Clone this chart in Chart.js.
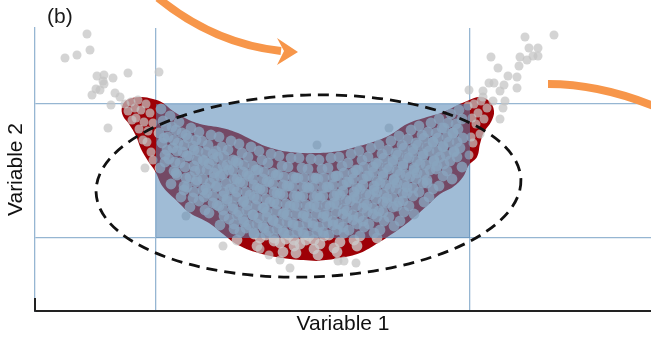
<!DOCTYPE html>
<html>
<head>
<meta charset="utf-8">
<script src="https://cdn.jsdelivr.net/npm/chart.js@4.4.1/dist/chart.umd.min.js"></script>
<style>
  body { margin: 0; background: #fff; }
  #wrap { width: 651px; height: 339px; }
</style>
</head>
<body>
<div id="wrap"><canvas id="canvas"></canvas></div>
<script>
// the figure has no tick labels, so the units are arbitrary (y runs top-down)
const xRange = [35, 651]
const yRange = [28, 311]

// the two reference lines on each axis; they also bound the blue box
const xGrid = [156, 470]
const yGrid = [104, 238]

// outline of the dark red density region (banana shape)
const blobOutline = [
  [317,261],[290,259],[262,254],[238,245],[223,234],[209,223],[190,213],[176,200],[163,187],
  [155,171],[148,161],[141,149],[136,136],[129,124],[123,116],[122,107],[127,100],[140,97],
  [153,99],[163,103],[173,111],[185,118],[200,124],[222,128],[238,133],[252,140],[268,147],
  [290,152],[317,153],[340,151],[352,148],[373,142],[390,135],[407,124],[427,117],[441,113],
  [454,107],[467,101],[480,97],[489,101],[494,111],[491,122],[484,132],[480,144],[477,157],
  [469,165],[463,177],[453,187],[440,194],[430,203],[418,214],[406,224],[392,234],[378,243],
  [360,253],[340,258],[317,261]
]

// samples in the left tail of the banana
const leftTip = [
  [125,104],[131,102],[128,111],[135,108],[138,100],[141,110],[136,118],[146,104],[150,113],
  [144,122],[132,120],[139,129],[148,131],[153,123],[147,142],[151,152],[143,140],[153,160]
]

// samples in the body of the banana
const bandPoints = [
  [161,109],[163,121],[159,133],[162,143],[165,155],[160,168],
  [170,116],[172,127],[168,137],[173,148],[169,159],[174,171],[171,184],
  [179,122],[182,133],[178,143],[183,152],[180,163],[177,175],[184,186],[181,197],
  [191,128],[188,138],[193,146],[189,156],[194,166],[190,177],[187,187],[193,198],[190,207],
  [199,132],[202,141],[198,151],[203,160],[200,170],[197,180],[203,190],[199,201],[205,210],
  [211,135],[208,145],[213,154],[209,164],[214,173],[210,183],[207,193],[213,203],[209,213],
  [219,137],[222,147],[218,157],[223,166],[220,176],[217,186],[223,196],[219,206],[224,216],[220,225],
  [231,141],[228,150],[233,160],[229,170],[234,179],[230,189],[227,199],[233,209],[229,219],[234,229],
  [239,144],[242,153],[238,163],[243,172],[240,182],[237,192],[243,202],[239,212],[244,222],[240,232],[237,240],
  [251,147],[248,157],[253,166],[249,176],[254,185],[250,195],[247,205],[253,215],[249,225],[254,234],
  [259,151],[262,160],[258,170],[263,179],[260,189],[257,199],[263,208],[259,218],[264,228],[260,238],[257,246],
  [271,154],[268,163],[273,173],[269,182],[274,192],[270,202],[267,212],[273,221],[269,231],[274,241],
  [279,156],[282,166],[278,175],[283,185],[280,194],[277,204],[283,214],[279,223],[284,233],[280,243],[283,252],
  [291,158],[288,167],[293,177],[289,186],[294,196],[290,206],[287,215],[293,225],[289,235],[294,246],
  [299,158],[302,168],[298,178],[303,187],[300,197],[297,206],[303,216],[299,226],[304,235],[300,244],[296,253],
  [311,159],[308,169],[313,178],[309,188],[314,197],[310,207],[307,217],[313,226],[309,236],[314,249],
  [319,160],[322,169],[318,179],[323,188],[320,198],[317,207],[323,217],[319,227],[324,236],[320,244],[318,255],
  [331,158],[328,168],[333,177],[329,187],[334,196],[330,206],[327,216],[333,225],[329,235],[334,248],
  [339,157],[342,166],[338,176],[343,185],[340,195],[337,204],[343,214],[339,224],[344,233],[340,242],[337,252],
  [351,154],[348,163],[353,173],[349,182],[354,192],[350,201],[347,211],[353,220],[349,230],[354,240],
  [359,151],[362,160],[358,170],[363,179],[360,189],[357,198],[363,208],[359,217],[364,227],[360,236],[357,246],
  [371,148],[368,157],[373,167],[369,176],[374,186],[370,195],[367,205],[373,214],[369,224],[374,233],
  [379,145],[382,154],[378,164],[383,173],[380,183],[377,192],[383,202],[379,211],[384,221],[380,230],[377,238],
  [391,141],[388,150],[393,160],[389,169],[394,179],[390,188],[387,198],[393,207],[389,217],[394,226],
  [399,136],[402,145],[398,155],[403,164],[400,174],[397,183],[403,193],[399,202],[404,212],[400,221],
  [411,130],[408,139],[413,149],[409,158],[414,168],[410,177],[407,187],[413,196],[409,206],[414,214],
  [419,126],[422,135],[418,145],[423,154],[420,164],[417,173],[423,183],[419,192],[424,202],
  [431,123],[428,132],[433,142],[429,151],[434,161],[430,170],[427,180],[433,189],[429,197],
  [439,119],[442,128],[438,138],[443,147],[440,157],[437,166],[443,176],[439,186],
  [451,114],[448,123],[453,133],[449,142],[454,152],[450,161],[447,171],[452,179],
  [459,110],[462,119],[458,129],[463,138],[460,148],[457,157],[462,167]
]

// extra samples where the cloud is densest (middle of the band)
const corePoints = [
  [166,126],[164,138],[167,150],[165,162],
  [176,130],[174,140],[177,151],[175,162],[176,173],
  [186,135],[184,145],[187,156],[185,167],[186,178],[184,190],
  [196,140],[194,150],[197,160],[195,171],[196,182],[194,192],
  [206,152],[204,161],[207,170],[203,179],[206,188],[204,197],
  [216,151],[213,160],[217,169],[214,178],[216,187],[213,196],[217,205],
  [224,156],[227,165],[223,174],[226,183],[224,192],[227,201],[223,210],
  [236,161],[233,170],[237,179],[234,188],[236,197],[233,206],[237,215],[234,224],
  [244,165],[247,174],[243,183],[246,192],[244,201],[247,210],[243,219],[246,228],
  [256,170],[253,179],[257,188],[254,197],[256,206],[253,215],[257,224],[254,233],
  [264,172],[267,181],[263,190],[266,199],[264,208],[267,217],[263,226],[266,235],
  [276,175],[273,184],[277,193],[274,202],[276,211],[273,220],[277,229],[274,238],
  [284,177],[287,186],[283,195],[286,204],[284,213],[287,222],[283,231],[286,239],
  [296,178],[293,187],[297,196],[294,205],[296,214],[293,223],[297,232],[294,240],
  [304,178],[307,187],[303,196],[306,205],[304,214],[307,223],[303,232],[306,240],
  [316,178],[313,187],[317,196],[314,205],[316,214],[313,223],[317,232],[314,240],
  [324,178],[327,187],[323,196],[326,205],[324,214],[327,223],[323,232],
  [336,176],[333,185],[337,194],[334,203],[336,212],[333,221],[337,230],
  [344,173],[347,182],[343,191],[346,200],[344,209],[347,218],[343,227],
  [356,170],[353,179],[357,188],[354,197],[356,206],[353,215],[357,224],
  [364,167],[367,176],[363,185],[366,194],[364,203],[367,212],[363,221],
  [376,163],[373,172],[377,181],[374,190],[376,199],[373,208],[377,217],
  [384,158],[387,167],[383,176],[386,185],[384,194],[387,203],[383,212],
  [396,153],[393,162],[397,171],[394,180],[396,189],[393,198],[397,206],
  [404,148],[407,157],[403,166],[406,175],[404,184],[407,193],[403,201],
  [416,143],[413,152],[417,161],[414,170],[416,179],[413,188],
  [424,138],[427,147],[423,156],[426,165],[424,174],[427,183],
  [436,133],[433,142],[437,151],[434,160],[436,169],
  [444,128],[447,137],[443,146],[446,155],[444,164],
  [456,124],[453,133],[457,142],[454,151]
]

// samples in the right tail
const rightTip = [
  [468,106],[474,104],[481,101],[487,108],[478,113],[484,119],[472,118],[476,124],[480,134],
  [471,137],[473,143],[469,155]
]

// stray samples outside the red region
const strays = [
  [87,34],[90,50],[77,55],[65,58],[97,76],[104,75],[113,78],[128,73],[104,84],[96,89],[92,95],
  [103,81],[100,90],[115,93],[120,97],[111,105],[108,128],[145,168],[159,72],[186,216],
  [525,37],[554,35],[529,48],[538,48],[533,56],[538,56],[527,60],[520,57],[519,66],[491,57],
  [498,68],[508,76],[517,77],[489,83],[494,83],[504,85],[517,88],[500,91],[483,91],[469,90],
  [483,97],[493,101],[505,101],[503,108],[500,119],
  [223,246],[260,249],[269,255],[280,260],[290,268],[338,261],[344,261],[356,263],[317,145],[389,128]
]

// dashed ellipse: centre, semi-axes (data units) and tilt (radians)
const ellipse = { cx: 308.5, cy: 186, rx: 212.5, ry: 91, tilt: -0.03 }

// orange arrows (data units): [start, control points..., end]
const arrowOne = [[158,-2],[185,20],[225,45],[281,51]]
const arrowOneHead = [[298,52],[277,38],[284,51],[277,65]]
const arrowTwo = [[548,84],[600,84],[656,107]]

const gridColor = 'rgb(150, 182, 210)'
const pointColor = 'rgba(202, 202, 202, 0.8)'
const textFont = '"Liberation Sans", Arial, sans-serif'

const toXY = list => list.map(([x, y]) => ({ x, y }))

const overlays = {
  id: 'overlays',
  afterDatasetsDraw(chart) {
    const { ctx, scales: { x, y } } = chart
    ctx.save()
    // translucent blue box between the reference lines
    const left = x.getPixelForValue(xGrid[0])
    const right = x.getPixelForValue(xGrid[1])
    const top = y.getPixelForValue(yGrid[0])
    const bottom = y.getPixelForValue(yGrid[1])
    ctx.fillStyle = 'rgba(82, 133, 180, 0.55)'
    ctx.fillRect(left, top, right - left, bottom - top)

    // dashed ellipse
    const cx = x.getPixelForValue(ellipse.cx)
    const cy = y.getPixelForValue(ellipse.cy)
    const rx = Math.abs(x.getPixelForValue(ellipse.cx + ellipse.rx) - cx)
    const ry = Math.abs(y.getPixelForValue(ellipse.cy + ellipse.ry) - cy)
    ctx.beginPath()
    ctx.setLineDash([11, 7])
    ctx.lineWidth = 2.8
    ctx.strokeStyle = '#111'
    ctx.ellipse(cx, cy, rx, ry, ellipse.tilt, 0, Math.PI * 2)
    ctx.stroke()
    ctx.restore()
  },
  afterDraw(chart) {
    const { ctx, scales: { x, y } } = chart
    const px = p => [x.getPixelForValue(p[0]), y.getPixelForValue(p[1])]
    ctx.save()

    // orange arrows
    ctx.strokeStyle = '#f7964a'
    ctx.fillStyle = '#f7964a'
    ctx.lineWidth = 8
    ctx.lineCap = 'butt'
    let a = arrowOne.map(px)
    ctx.beginPath()
    ctx.moveTo(...a[0])
    ctx.bezierCurveTo(...a[1], ...a[2], ...a[3])
    ctx.stroke()
    const h = arrowOneHead.map(px)
    ctx.beginPath()
    ctx.moveTo(...h[0])
    h.slice(1).forEach(p => ctx.lineTo(...p))
    ctx.closePath()
    ctx.fill()
    a = arrowTwo.map(px)
    ctx.beginPath()
    ctx.moveTo(...a[0])
    ctx.quadraticCurveTo(...a[1], ...a[2])
    ctx.stroke()

    // short black stub at the bottom of the y axis
    const axX = chart.chartArea.left
    ctx.strokeStyle = '#222'
    ctx.lineWidth = 2
    ctx.beginPath()
    ctx.moveTo(axX, y.getPixelForValue(298))
    ctx.lineTo(axX, chart.chartArea.bottom)
    ctx.stroke()

    // panel letter
    ctx.fillStyle = '#1a1a1a'
    ctx.font = '21px ' + textFont
    ctx.textAlign = 'left'
    ctx.textBaseline = 'middle'
    ctx.fillText('(b)', 47, 17)
    ctx.restore()
  }
}

const target = document.querySelector('#canvas')
new Chart(target, {
  type: 'scatter',
  data: {
    datasets: [
      {
        type: 'line',
        label: 'density',
        data: toXY(blobOutline),
        fill: 'shape',
        backgroundColor: 'rgb(158, 0, 6)',
        borderColor: 'rgba(0, 0, 0, 0)',
        borderWidth: 1,
        pointRadius: 0,
        tension: 0.4,
        order: 3
      },
      {
        label: 'samples (body)',
        data: toXY([...bandPoints, ...corePoints]),
        pointRadius: 5.4,
        pointHoverRadius: 0,
        pointBackgroundColor: pointColor,
        pointBorderWidth: 0,
        order: 2
      },
      {
        label: 'samples (tails)',
        data: toXY([...leftTip, ...rightTip, ...strays]),
        pointRadius: 4.5,
        pointHoverRadius: 0,
        pointBackgroundColor: 'rgba(195, 195, 195, 0.72)',
        pointBorderWidth: 0,
        order: 1
      }
    ]
  },
  options: {
    responsive: true,
    maintainAspectRatio: false,
    animation: false,
    layout: { autoPadding: false, padding: { top: 28, right: 0, bottom: 0, left: 0 } },
    plugins: { legend: { display: false }, tooltip: { enabled: false } },
    scales: {
      x: {
        min: xRange[0],
        max: xRange[1],
        afterBuildTicks: s => { s.ticks = xGrid.map(v => ({ value: v })) },
        afterFit: s => { s.height = 28 },
        ticks: { display: false },
        grid: { color: gridColor, lineWidth: 1.3, drawTicks: false },
        border: { color: '#222', width: 2 },
        title: {
          display: true,
          text: 'Variable 1',
          color: '#111',
          font: { family: textFont, size: 21 },
          padding: { top: 0, bottom: 2 }
        }
      },
      y: {
        reverse: true,
        min: yRange[0],
        max: yRange[1],
        afterBuildTicks: s => { s.ticks = yGrid.map(v => ({ value: v })) },
        afterFit: s => { s.width = 35 },
        ticks: { display: false },
        grid: { color: gridColor, lineWidth: 1.3, drawTicks: false },
        border: { color: gridColor, width: 1.3 },
        title: {
          display: true,
          text: 'Variable 2',
          color: '#111',
          font: { family: textFont, size: 21 },
          padding: { top: 4, bottom: 0 }
        }
      }
    }
  },
  plugins: [overlays]
})
</script>
</body>
</html>
